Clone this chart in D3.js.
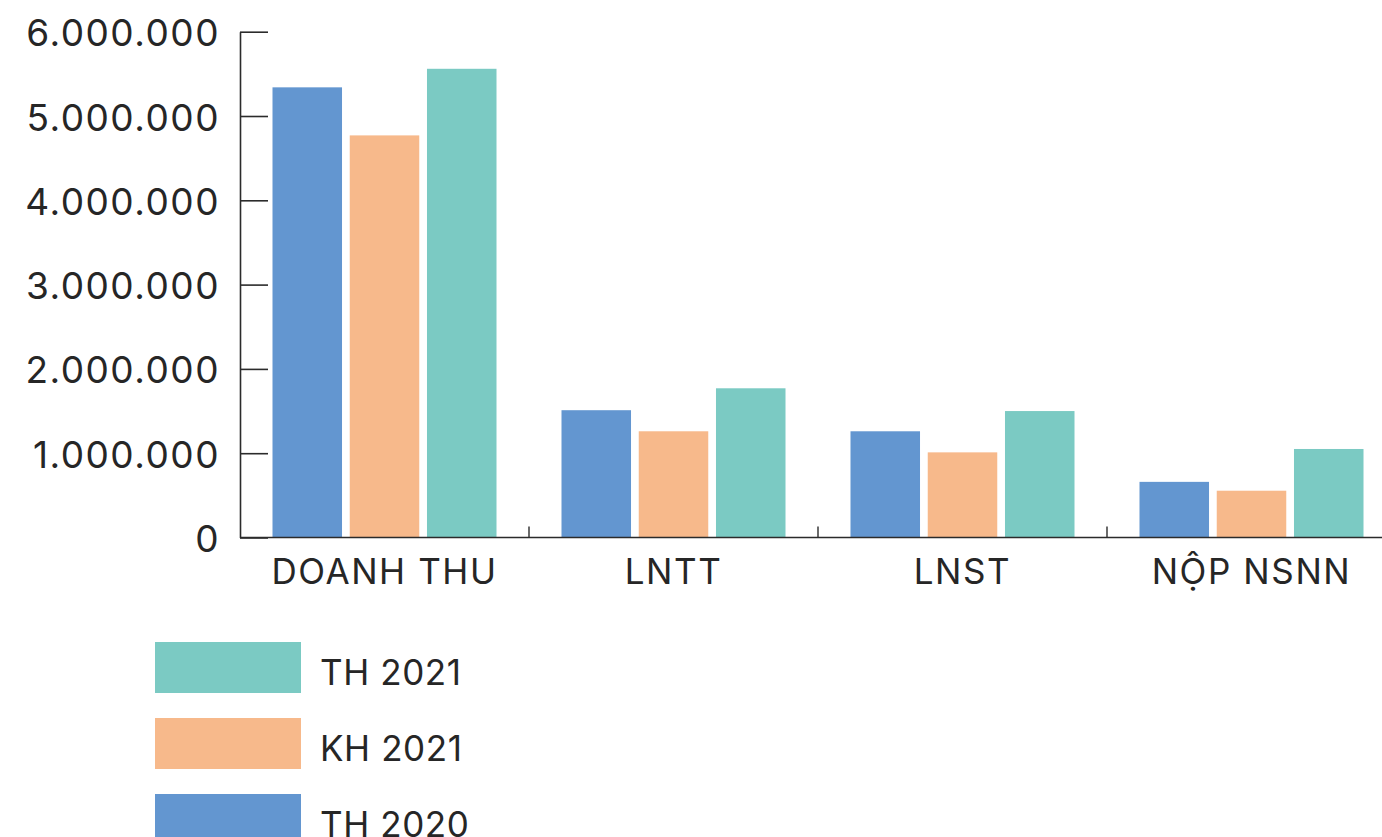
<!DOCTYPE html>
<html>
<head>
<meta charset="utf-8">
<script src="https://cdn.jsdelivr.net/npm/d3@7"></script>
<style>
  body { margin: 0; background: #fff; }
  text { font-family: "Inter", "Lato", sans-serif; fill: #262626; }
</style>
</head>
<body>
<div id="wrapper"></div>
<script>
const categories = ["DOANH THU", "LNTT", "LNST", "NỘP NSNN"];
const series = ["TH 2020", "KH 2021", "TH 2021"];
const th2020 = [5340000, 1510000, 1260000, 660000];
const kh2021 = [4770000, 1260000, 1010000, 555000];
const th2021 = [5560000, 1770000, 1500000, 1050000];
const yTicks = [0, 1000000, 2000000, 3000000, 4000000, 5000000, 6000000];
const legendOrder = ["TH 2021", "KH 2021", "TH 2020"];

const colors = {"TH 2020": "#6396d0", "KH 2021": "#f7b98b", "TH 2021": "#7bcac3"};

var data = categories.map((c, i) => ({
    category: c,
    values: [
        {key: "TH 2020", value: th2020[i]},
        {key: "KH 2021", value: kh2021[i]},
        {key: "TH 2021", value: th2021[i]}
    ]
}));

var dimension = {width: 1382, height: 837};

const wrapper = d3.select("#wrapper")
    .append("svg")
    .attr("width", dimension.width)
    .attr("height", dimension.height);

const x = d3.scaleBand()
    .domain(categories)
    .range([240, 1396])
    .padding(0);

const x1 = d3.scaleBand()
    .domain(series)
    .range([32.5, x.bandwidth() - 32.5])
    .paddingInner(0.1);

const y = d3.scaleLinear()
    .domain([0, 6000000])
    .range([537.5, 31.7]);

const locale = d3.formatLocale({decimal: ",", thousands: ".", grouping: [3], currency: ["", ""]});
const fmt = locale.format(",");

// bars
const groups = wrapper.append("g")
    .selectAll("g")
    .data(data)
    .enter()
    .append("g")
    .attr("transform", d => `translate(${x(d.category)},0)`);

groups.selectAll("rect")
    .data(d => d.values)
    .enter()
    .append("rect")
    .attr("x", d => x1(d.key))
    .attr("width", x1.bandwidth())
    .attr("y", d => y(d.value))
    .attr("height", d => y(0) - y(d.value))
    .attr("fill", d => colors[d.key]);

// y axis
const yAxis = wrapper.append("g")
    .attr("transform", "translate(240,0)")
    .call(d3.axisLeft(y).tickValues(yTicks).tickFormat(fmt).tickSizeInner(-28).tickSizeOuter(0).tickPadding(20));
yAxis.selectAll("path, line").attr("stroke", "#2b2b2b").attr("stroke-width", 1.6);
yAxis.selectAll("text")
    .style("font-family", "Inter, sans-serif")
    .style("font-size", "37px")
    .style("letter-spacing", "1.5px")
    .attr("dy", "0.38em")
    .attr("fill", "#262626");

// x axis
const xAxis = wrapper.append("g");
xAxis.append("line")
    .attr("x1", 240).attr("x2", dimension.width)
    .attr("y1", y(0)).attr("y2", y(0))
    .attr("stroke", "#2b2b2b").attr("stroke-width", 1.6);
xAxis.selectAll(".sep")
    .data(categories.slice(1))
    .enter()
    .append("line")
    .attr("x1", d => x(d)).attr("x2", d => x(d))
    .attr("y1", y(0)).attr("y2", y(0) - 11)
    .attr("stroke", "#2b2b2b").attr("stroke-width", 1.4);
xAxis.selectAll("text")
    .data(categories)
    .enter()
    .append("text")
    .attr("x", d => x(d) + x.bandwidth() / 2)
    .attr("y", 584)
    .attr("text-anchor", "middle")
    .style("font-size", "35px")
    .style("letter-spacing", "1.6px")
    .text(d => d);

// legend
const legend = wrapper.append("g")
    .selectAll("g")
    .data(legendOrder)
    .enter()
    .append("g")
    .attr("transform", (d, i) => `translate(155,${642 + i * 76})`);
legend.append("rect")
    .attr("width", 146)
    .attr("height", 51)
    .attr("fill", d => colors[d]);
legend.append("text")
    .attr("x", 165)
    .attr("y", 43)
    .style("font-size", "35px")
    .style("letter-spacing", "0.6px")
    .text(d => d);
</script>
</body>
</html>
